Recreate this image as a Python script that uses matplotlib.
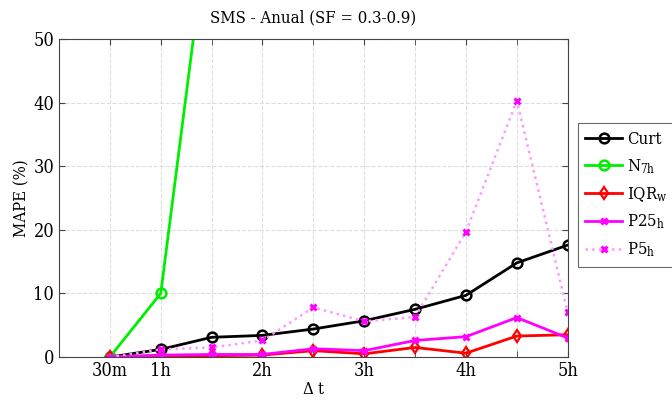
import numpy as np
import matplotlib.pyplot as plt

plt.rcParams['font.family'] = ['DejaVu Serif']
plt.rcParams['font.stretch'] = 'condensed'
plt.rcParams['mathtext.fontset'] = 'custom'
plt.rcParams['mathtext.rm'] = 'DejaVu Serif:stretch=condensed'
plt.rcParams['mathtext.it'] = 'DejaVu Serif:stretch=condensed'

dt = [0.5, 1, 1.5, 2, 2.5, 3, 3.5, 4, 4.5, 5]
curt = [0, 1.2, 3.1, 3.4, 4.4, 5.7, 7.5, 9.7, 14.8, 17.6]
n7h_dt = [0.5, 1, 1.5]
n7h = [0, 10, 72.5]
iqr_w = [0, 0.2, 0.2, 0.3, 1.0, 0.5, 1.5, 0.6, 3.3, 3.5]
p25_h = [0, 0.3, 0.4, 0.4, 1.3, 1.0, 2.6, 3.2, 6.2, 3.0]
p5_h = [0, 1.2, 1.5, 2.6, 7.8, 5.6, 6.3, 19.7, 40.3, 7.0]

xtick_pos = [0.5, 1, 2, 3, 4, 5]
xtick_lab = ['30m', '1h', '2h', '3h', '4h', '5h']

fig = plt.figure(figsize=(6.72, 4.01), dpi=100)
ax = fig.add_axes([0.0878, 0.1097, 0.757, 0.793])

ax.plot(dt, curt, '-o', color='black', lw=2, ms=7, mfc='none', mew=1.8, label='Curt')
ax.plot(n7h_dt, n7h, '-o', color='#00ee00', lw=2, ms=7, mfc='none', mew=1.8, label='N$_\\mathrm{7h}$')
ax.plot(dt, iqr_w, '-d', color='red', lw=2, ms=6, mfc='none', mew=1.6, label='IQR$_\\mathrm{w}$')
ax.plot(dt, p25_h, '-x', color='magenta', lw=2, ms=5, mew=2.2, label='P25$_\\mathrm{h}$')
ax.plot(dt, p5_h, ':', color='#ff99ff', lw=1.8, label='_nolegend_')
ax.plot(dt, p5_h, 'x', color='magenta', ms=5, mew=2.2, label='_nolegend_')
ax.plot([], [], ':x', color='#ff99ff', mec='magenta', lw=1.8, ms=5, mew=2.2, label='P5$_\\mathrm{h}$')

ax.set_xlim(0, 5)
ax.set_ylim(0, 50)
ax.set_xticks(np.arange(0.5, 5.01, 0.5), minor=True)
ax.set_xticks(xtick_pos)
ax.set_xticklabels(xtick_lab, fontsize=13)
ax.set_yticks([0, 10, 20, 30, 40, 50])
ax.tick_params(axis='y', labelsize=13)
ax.tick_params(which='both', direction='in', top=True, right=True, length=4, color='#444444')
ax.grid(True, which='both', linestyle='--', color='#dddddd', lw=0.8)
ax.set_axisbelow(True)
for s in ax.spines.values():
    s.set_color('#444444')

ax.set_title('SMS - Anual (SF = 0.3-0.9)', fontsize=12, pad=12)
ax.set_ylabel('MAPE (%)', fontsize=12, labelpad=2)
ax.set_xlabel('$\\Delta$ t', fontsize=12, labelpad=1)

leg = ax.legend(loc='upper left', bbox_to_anchor=(1.02, 0.735), borderaxespad=0,
                fontsize=12, fancybox=False, edgecolor='#444444', handlelength=2.2,
                borderpad=0.45, labelspacing=0.55, handletextpad=0.3)
leg.get_frame().set_linewidth(0.8)

plt.savefig('out.png', dpi=100)
